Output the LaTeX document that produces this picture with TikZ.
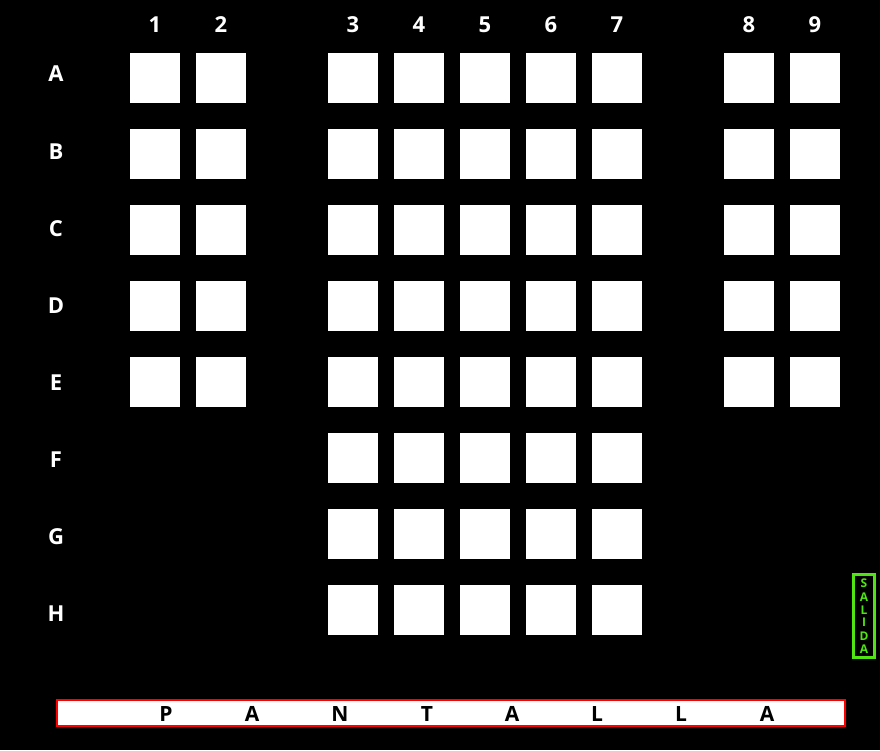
\documentclass[tikz,border=0pt]{standalone}
\usepackage{fontspec}
\setmainfont{Open Sans}
\definecolor{exitgreen}{RGB}{80,228,20}
\begin{document}
\begin{tikzpicture}[x=1pt,y=-1pt,
  seat/.style={fill=white,draw=none,minimum width=50pt,minimum height=50pt,inner sep=0pt,anchor=north west},
  lab/.style={text=white,font=\bfseries\fontsize{22}{22}\selectfont,inner sep=0pt},
  scr/.style={text=black,font=\bfseries\fontsize{21}{21}\selectfont,inner sep=0pt},
  sal/.style={text=exitgreen,font=\bfseries\fontsize{12}{12}\selectfont,inner sep=0pt}]
\fill[black] (0,0) rectangle (880,750);
\useasboundingbox (0,0) rectangle (880,750);
% column labels
\foreach \n/\x in {1/155,2/221,3/353,4/419,5/485,6/551,7/617,8/749,9/815}
  \node[lab] (c\n) at (\x,25) {\n};
% row labels
\foreach \r/\y in {A/74,B/152,C/229,D/306,E/383,F/460,G/537,H/614}
  \node[lab] (r\r) at (56,\y) {\r};
% seats rows A-E, all columns
\foreach \r/\y in {A/53,B/129,C/205,D/281,E/357}
  \foreach \n/\x in {1/130,2/196,3/328,4/394,5/460,6/526,7/592,8/724,9/790}
    \node[seat] (s\r\n) at (\x,\y) {};
% seats rows F-H, columns 3-7
\foreach \r/\y in {F/433,G/509,H/585}
  \foreach \n/\x in {3/328,4/394,5/460,6/526,7/592}
    \node[seat] (s\r\n) at (\x,\y) {};
% salida
\node[draw=exitgreen,line width=3pt,fill=black,minimum width=21pt,minimum height=83pt,inner sep=0pt] (salida) at (864,616) {};
\foreach \l/\y [count=\i] in {S/583,A/597,L/610,I/622,D/636,A/649}
  \node[sal] (sl\i) at (864,\y) {\l};
% pantalla
\node[draw=red,line width=2pt,fill=white,minimum width=788pt,minimum height=26pt,inner sep=0pt] (screen) at (451,713) {};
\foreach \l/\x [count=\i] in {P/166,A/252,N/340,T/427,A/512,L/597,L/681,A/767}
  \node[scr] (p\i) at (\x,714) {\l};
\end{tikzpicture}
\end{document}
